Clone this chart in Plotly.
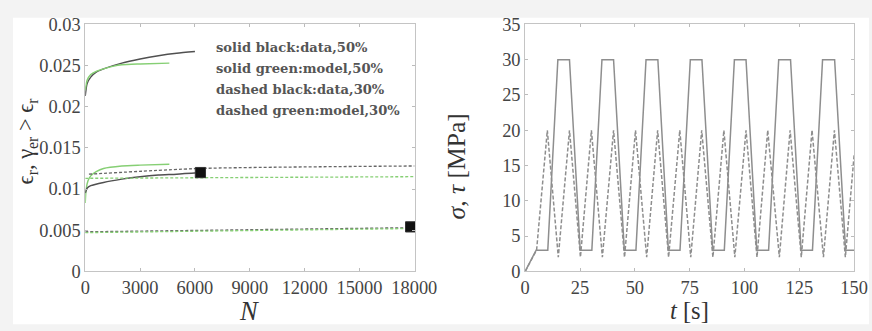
import plotly.graph_objects as go

W0, H0 = 872, 331
S = 1.022           # overall render scale
W, H = round(W0 * S), round(H0 * S)

# ---------------- Left panel data ----------------
N_black50 = [0, 100, 300, 600, 1000, 2000, 3000, 4000, 5000, 6000]
E_black50 = [0.0213, 0.0228, 0.0236, 0.0242, 0.0246, 0.0253, 0.0258, 0.0262, 0.0265, 0.0267]

N_green50 = [0, 100, 300, 600, 1000, 1500, 2000, 3000, 4600]
E_green50 = [0.0220, 0.0232, 0.0239, 0.0243, 0.0246, 0.0249, 0.0251, 0.0252, 0.0253]

N_green30 = [0, 50, 150, 300, 600, 1000, 2000, 3000, 4600]
E_green30 = [0.0083, 0.0100, 0.0110, 0.0116, 0.0121, 0.0125, 0.0128, 0.0129, 0.0130]

N_black30 = [0, 100, 300, 1000, 2000, 3000, 4000, 5000, 6300]
E_black30 = [0.0095, 0.0101, 0.0104, 0.0108, 0.0112, 0.0115, 0.0117, 0.0118, 0.0120]

N_dash_black_hi = [200, 6300, 18000]
E_dash_black_hi = [0.0118, 0.0125, 0.0128]
N_dash_green_hi = [0, 18000]
E_dash_green_hi = [0.0113, 0.0115]
N_dash_black_lo = [0, 17800]
E_dash_black_lo = [0.0048, 0.0053]
N_dash_green_lo = [0, 17800]
E_dash_green_lo = [0.0047, 0.0052]

N_fail = [6300, 17800]
E_fail = [0.0120, 0.0054]

legend_texts = ["solid black:data,50%", "solid green:model,50%",
                "dashed black:data,30%", "dashed green:model,30%"]

# ---------------- Right panel data ----------------
t_sigma = [0, 5.0, 10.3, 14.9, 20.2, 25.1, 30.4, 35.0, 40.3, 45.2, 50.5, 55.1, 60.5, 65.3,
           70.6, 75.3, 80.6, 85.5, 90.8, 95.4, 100.7, 105.6, 111.0, 115.6, 121.0, 125.8,
           131.0, 135.6, 141.1, 146.1, 150]
sigma = [0, 3, 3, 30, 30, 3, 3, 30, 30, 3, 3, 30, 30, 3, 3, 30, 30, 3, 3, 30, 30, 3,
         3, 30, 30, 3, 3, 30, 30, 3, 3]

t_tau = [0, 5.2, 10.1, 15.1, 20.2, 25.2, 30.2, 35.2, 40.3, 45.3, 50.3, 55.4, 60.4, 65.4,
         70.5, 75.5, 80.5, 85.6, 90.6, 95.6, 100.7, 105.7, 110.6, 115.9, 120.8, 125.9,
         130.8, 136.0, 141.0, 146.0, 150]
tau = [0, 3, 20, 2, 20, 2, 20, 2, 20, 2, 20, 2, 20, 2, 20, 2, 20, 2, 20, 2, 20, 2,
       20, 2, 20, 2, 20, 2, 20, 2, 16.5]

left_yticks = [0, 0.005, 0.01, 0.015, 0.02, 0.025, 0.03]
left_yticklabels = ["0", "0.005", "0.01", "0.015", "0.02", "0.025", "0.03"]
left_xticks = [0, 3000, 6000, 9000, 12000, 15000, 18000]
left_xticklabels = ["0", "3000", "6000", "9000", "12000", "15000", "18000"]
right_yticks = [0, 5, 10, 15, 20, 25, 30, 35]
right_xticks = [0, 25, 50, 75, 100, 125, 150]

BLACK = "#505050"
GREEN = "#86cf74"
SERIF = "Liberation Serif, Times New Roman, serif"

fig = go.Figure()

def add(x, y, color, dash="solid", width=1.4, xa="x", ya="y"):
    fig.add_trace(go.Scatter(x=x, y=y, mode="lines", xaxis=xa, yaxis=ya,
                             line=dict(color=color, width=width * S, dash=dash, shape="spline", smoothing=0.6),
                             showlegend=False, hoverinfo="skip"))

add(N_black50, E_black50, BLACK)
add(N_green50, E_green50, GREEN)
add(N_green30, E_green30, GREEN)
add(N_black30, E_black30, BLACK)
add(N_dash_black_hi, E_dash_black_hi, "#666666", dash="3px,2px", width=1.3)
add(N_dash_green_hi, E_dash_green_hi, GREEN, dash="3px,2px", width=1.3)
add(N_dash_black_lo, E_dash_black_lo, "#666666", dash="3px,2px", width=1.3)
add(N_dash_green_lo, E_dash_green_lo, GREEN, dash="3px,2px", width=1.3)
fig.add_trace(go.Scatter(x=N_fail, y=E_fail, mode="markers", xaxis="x", yaxis="y",
                         marker=dict(symbol="square", size=10 * S, color="#111111",
                                     line=dict(color="#333", width=1)),
                         showlegend=False, hoverinfo="skip"))

fig.add_trace(go.Scatter(x=t_sigma, y=sigma, mode="lines", xaxis="x2", yaxis="y2",
                         line=dict(color="#8e8e8e", width=1.5),
                         showlegend=False, hoverinfo="skip"))
fig.add_trace(go.Scatter(x=t_tau, y=tau, mode="lines", xaxis="x2", yaxis="y2",
                         line=dict(color="#8e8e8e", width=1.5, dash="4px,2px"),
                         showlegend=False, hoverinfo="skip"))

def px_x(p):
    return p / W0

def px_y(p):
    return 1 - p / H0

tickfont = dict(family=SERIF, size=18 * S, color="#444")
axcommon = dict(showgrid=False, zeroline=False, showline=True, linecolor="#c4c4c4",
                linewidth=1, mirror="allticks", ticks="inside", ticklen=3,
                tickcolor="#bbbbbb", tickfont=tickfont)

fig.update_layout(
    width=W, height=H,
    margin=dict(l=0, r=0, t=0, b=0),
    paper_bgcolor="#f3f3f3",
    plot_bgcolor="white",
    xaxis=dict(domain=[px_x(81), px_x(414)], range=[0, 18050], tickvals=left_xticks,
               ticktext=left_xticklabels, anchor="y", **axcommon),
    yaxis=dict(domain=[px_y(272), px_y(15)], range=[0, 0.03], tickvals=left_yticks,
               ticktext=left_yticklabels, anchor="x", **axcommon),
    xaxis2=dict(domain=[px_x(525), px_x(857)], range=[0, 150], tickvals=right_xticks,
                anchor="y2", **axcommon),
    yaxis2=dict(domain=[px_y(272), px_y(15)], range=[0, 35], tickvals=right_yticks,
                anchor="x2", **axcommon),
)

fig.add_shape(type="rect", xref="paper", yref="paper", x0=px_x(8), x1=1.0,
              y0=px_y(327), y1=px_y(8), fillcolor="white", line=dict(width=0), layer="below")

for i, txt in enumerate(legend_texts):
    fig.add_annotation(xref="paper", yref="paper", x=px_x(211), y=px_y(39 + i * 21.7),
                       text="<b>" + txt + "</b>", showarrow=False, xanchor="left", yanchor="middle",
                       font=dict(family="DejaVu Serif", size=12.8 * S, color="#555"))

titlefont = dict(family=SERIF, color="#333")
fig.add_annotation(xref="paper", yref="paper", x=px_x(22), y=px_y(136),
                   text="ϵ<sub>r</sub>, γ<sub>er</sub> > ϵ<sub>r</sub>", textangle=-90,
                   showarrow=False, xanchor="center", yanchor="middle",
                   font=dict(size=22 * S, **titlefont))
fig.add_annotation(xref="paper", yref="paper", x=px_x(246), y=px_y(313),
                   text="<i>N</i>", showarrow=False, xanchor="center", yanchor="middle",
                   font=dict(size=26 * S, **titlefont))
fig.add_annotation(xref="paper", yref="paper", x=px_x(456), y=px_y(163),
                   text="<i>σ</i>, <i>τ</i> [MPa]", textangle=-90,
                   showarrow=False, xanchor="center", yanchor="middle",
                   font=dict(size=25 * S, **titlefont))
fig.add_annotation(xref="paper", yref="paper", x=px_x(691), y=px_y(313),
                   text="<i>t</i> [s]", showarrow=False, xanchor="center", yanchor="middle",
                   font=dict(size=24 * S, **titlefont))

fig.write_html("out.html",
               post_script="document.body.style.margin='0';document.body.style.overflow='hidden';")
